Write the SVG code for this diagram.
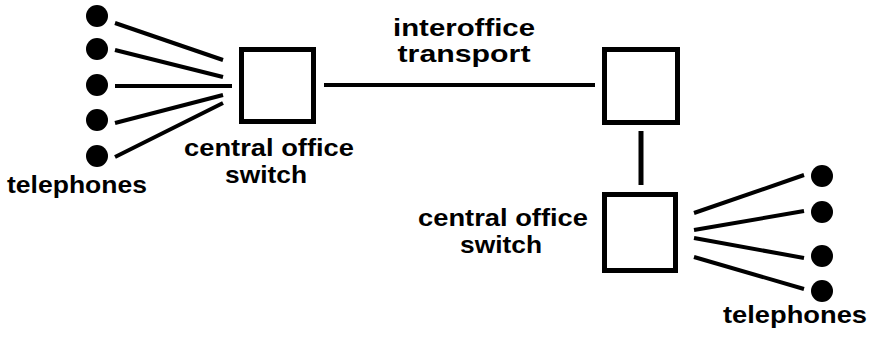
<svg xmlns="http://www.w3.org/2000/svg" width="878" height="337" viewBox="0 0 878 337">
  <style>
    .box { fill: #fff; stroke: #000; stroke-width: 5; }
    .wire { stroke: #000; stroke-width: 4; fill: none; }
    .phone { fill: #000; }
    .label { font-family: "Liberation Sans", Arial, Helvetica, sans-serif; font-weight: bold; font-size: 24px; fill: #000; text-anchor: middle; }
  </style>
  <rect width="878" height="337" fill="#fff"/>

  <!-- connectors -->
  <g id="connectors">
    <line class="wire" x1="115" y1="23" x2="223" y2="60"/>
    <line class="wire" x1="115" y1="50" x2="223" y2="77"/>
    <line class="wire" x1="115" y1="86" x2="232" y2="86"/>
    <line class="wire" x1="115" y1="123" x2="223" y2="95"/>
    <line class="wire" x1="115" y1="157" x2="223" y2="103"/>
    <line class="wire" x1="324" y1="85" x2="595" y2="85"/>
    <line class="wire" x1="641" y1="131" x2="641" y2="185" style="stroke-width:5"/>
    <line class="wire" x1="694" y1="213" x2="804" y2="175"/>
    <line class="wire" x1="694" y1="230" x2="804" y2="211"/>
    <line class="wire" x1="694" y1="238" x2="804" y2="258"/>
    <line class="wire" x1="694" y1="257" x2="804" y2="289"/>
  </g>

  <g id="left-telephones">
    <circle class="phone" cx="97" cy="16" r="11"/>
    <circle class="phone" cx="97" cy="49" r="11"/>
    <circle class="phone" cx="97" cy="85" r="11"/>
    <circle class="phone" cx="97" cy="120" r="11"/>
    <circle class="phone" cx="97" cy="156" r="11"/>
    <text class="label" x="77" y="193" textLength="140" lengthAdjust="spacingAndGlyphs">telephones</text>
  </g>

  <g id="left-switch">
    <rect class="box" x="241.5" y="49.5" width="72" height="72"/>
    <text class="label" x="269" y="156" textLength="170" lengthAdjust="spacingAndGlyphs">central office</text>
    <text class="label" x="266" y="183" textLength="82" lengthAdjust="spacingAndGlyphs">switch</text>
  </g>

  <g id="interoffice-transport">
    <text class="label" x="464" y="36" textLength="142" lengthAdjust="spacingAndGlyphs">interoffice</text>
    <text class="label" x="464" y="62" textLength="133" lengthAdjust="spacingAndGlyphs">transport</text>
  </g>

  <g id="remote-terminal">
    <rect class="box" x="604.5" y="49.5" width="73" height="73"/>
  </g>

  <g id="right-switch">
    <rect class="box" x="604.5" y="194.5" width="71" height="76"/>
    <text class="label" x="503" y="226" textLength="170" lengthAdjust="spacingAndGlyphs">central office</text>
    <text class="label" x="501" y="253" textLength="82" lengthAdjust="spacingAndGlyphs">switch</text>
  </g>

  <g id="right-telephones">
    <circle class="phone" cx="822" cy="176" r="11"/>
    <circle class="phone" cx="822" cy="212" r="11"/>
    <circle class="phone" cx="822" cy="256" r="11"/>
    <circle class="phone" cx="822" cy="291" r="11"/>
    <text class="label" x="795" y="323" textLength="144" lengthAdjust="spacingAndGlyphs">telephones</text>
  </g>
</svg>
